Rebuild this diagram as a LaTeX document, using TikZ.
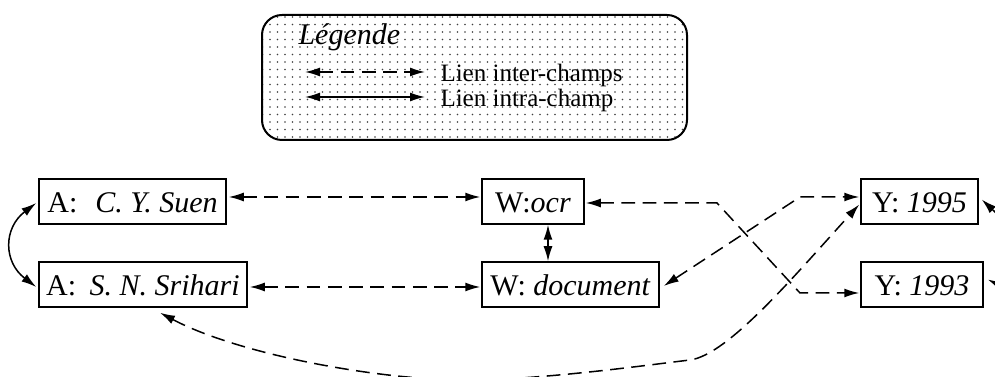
\documentclass[tikz,border=0pt]{standalone}
\usepackage{fontspec}
\setmainfont{Liberation Serif}
\usetikzlibrary{arrows.meta,patterns.meta,calc}
\tikzdeclarepattern{
  name=finedots,
  type=uncolored,
  bottom left={(-0.5pt,-0.5pt)},
  top right={(0.5pt,0.5pt)},
  tile size={(3pt,3pt)},
  code={\fill (0pt,0pt) circle (0.35pt);}
}
\tikzset{
  box/.style={draw, line width=0.6pt, inner sep=0pt, minimum height=18pt,
    text height=11.7pt, text depth=2.5pt, font=\fontsize{12}{14}\selectfont},
  tipstyle/.style={{Latex[length=6pt,width=3.6pt]}-{Latex[length=6pt,width=3.6pt]}},
  inter/.style={line width=0.6pt, dash pattern=on 5.5pt off 3pt, tipstyle},
  intra/.style={line width=0.6pt, tipstyle},
  legendtext/.style={anchor=base west, inner sep=0pt, font=\fontsize{10}{12}\selectfont},
}
\begin{document}
\begin{tikzpicture}[x=0.4pt,y=-0.4pt]
\useasboundingbox (0,0) rectangle (995,377);
\clip (0,0) rectangle (995,377);
% legend
\draw[line width=0.8pt, rounded corners=8pt, pattern=finedots, pattern color=black!75] (262,15) rectangle (687,140);
\node[anchor=base west, inner sep=0pt, font=\fontsize{12}{14}\selectfont] (legtitle) at (298,45) {\textit{Légende}};
\coordinate (l1a) at (305,72);
\coordinate (l1b) at (425,72);
\coordinate (l2a) at (305,97);
\coordinate (l2b) at (425,97);
\draw[inter] (l1a) -- (l1b);
\draw[intra] (l2a) -- (l2b);
\node[legendtext] (leginter) at (440,81.5) {Lien inter-champs};
\node[legendtext] (legintra) at (440,106.5) {Lien intra-champ};
% boxes
\node[box, minimum width=74.8pt] (a1) at (132.5,201.5) {A:\hspace{0.6em}\textit{C. Y. Suen}};
\node[box, minimum width=83.2pt] (a2) at (143,284.5) {A:\hspace{0.45em}\textit{S. N. Srihari}};
\node[box, minimum width=40.8pt] (ocr) at (533,201.5) {W:\textit{ocr}};
\node[box, minimum width=70.8pt] (doc) at (570.5,284.5) {W: \textit{document}};
\node[box, minimum width=46.8pt] (y95) at (919.5,201.5) {Y: \textit{1995}};
\node[box, minimum width=48.8pt] (y93) at (922,284.5) {Y: \textit{1993}};
% bend points
\coordinate (b1) at (717,203);
\coordinate (b2) at (800,293);
\coordinate (b3) at (800,197);
\coordinate (bot) at (465,380);
\coordinate (m) at (690,360);
% connectors
\draw[intra] ($(a1.west)+(-2,1.5)$) .. controls +(-33,25) and +(-33,-25) .. ($(a2.west)+(-2,2.5)$);
\draw[inter] ($(a1.east)+(2,-4.5)$) -- ($(ocr.west)+(-1,-4.5)$);
\draw[inter] ($(a2.east)+(2,2.5)$) -- ($(doc.west)+(-1,2.5)$);
\draw[intra] ($(ocr.south)+(15,0)$) -- ($(doc.north)+(-22.5,0)$);
\draw[inter] ($(ocr.east)+(1,1.5)$) -- (b1) -- (b2) -- ($(y93.west)+(-1,8.5)$);
\draw[inter] ($(doc.east)+(4,1.5)$) -- (b3) -- ($(y95.west)+(-1,-4.5)$);
\draw[inter] ($(a2.south)+(17,5)$) .. controls (240,355) and (380,380) .. (bot)
  .. controls (540,380) and (640,366) .. (m)
  .. controls (728,355) and (795,275) .. ($(y95.west)+(-1,3)$);
\draw[intra] ($(y95.east)+(3,-2)$) .. controls +(48,45) and +(43,21) .. ($(y93.east)+(4,-5)$);
\end{tikzpicture}
\end{document}
